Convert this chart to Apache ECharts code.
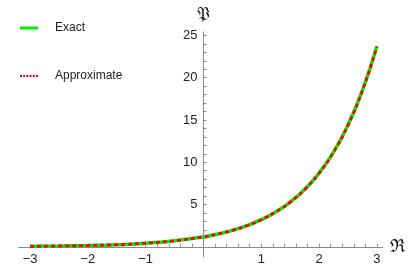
<!DOCTYPE html>
<html>
<head>
<meta charset="utf-8">
<script src="https://cdn.jsdelivr.net/npm/echarts@6/dist/echarts.min.js"></script>
<style>html,body{margin:0;padding:0;background:#fff}#c{width:416px;height:273px}</style>
</head>
<body>
<div id="c"></div>
<script>
// Values
const xs = [-3, -2.5, -2, -1.5, -1, -0.5, 0, 0.25, 0.5, 0.75, 1, 1.25, 1.5, 1.75, 2, 2.25, 2.5, 2.75, 3];
const exactVals = [0.06, 0.10, 0.16, 0.26, 0.43, 0.72, 1.18, 1.52, 1.95, 2.50, 3.21, 4.12, 5.29, 6.79, 8.72, 11.2, 14.4, 18.5, 23.7];
const approxVals = [0.06, 0.10, 0.16, 0.26, 0.43, 0.72, 1.18, 1.52, 1.95, 2.50, 3.21, 4.12, 5.29, 6.79, 8.72, 11.2, 14.4, 18.5, 23.7];
const xTickLabels = [-3, -2, -1, 1, 2, 3];
const yTickLabels = [5, 10, 15, 20, 25];
const xMinorTicks = [];
for (let i = -15; i <= 15; i++) xMinorTicks.push(Math.round(i * 2) / 10);
const yMinorTicks = [];
for (let i = 1; i <= 25; i++) yMinorTicks.push(i);

const exactData = xs.map((x, i) => [x, exactVals[i]]);
const approxData = xs.map((x, i) => [x, approxVals[i]]);

const gridLeft = 18.5, gridRight = 33.3, gridTop = 32, gridBottom = 16;
const xMin = -3.2, xMax = 3.1, yMin = -1.2, yMax = 25.4;
const plotW = 416 - gridLeft - gridRight;
const plotH = 273 - gridTop - gridBottom;
const xZeroOffset = plotW * (0 - xMin) / (xMax - xMin);
const yZeroOffset = plotH * (0 - yMin) / (yMax - yMin);

const dots = 'path://M0,0h2v2h-2z M3.2,0h2v2h-2z M6.4,0h2v2h-2z M9.6,0h2v2h-2z M12.8,0h2v2h-2z M16,0h2v2h-2z';

const chart = echarts.init(document.getElementById('c'), null, {renderer: 'canvas'});
const axisColor = '#8a8a8a';
chart.setOption({
  animation: false,
  backgroundColor: '#fff',
  grid: {left: gridLeft, right: gridRight, top: gridTop, bottom: gridBottom, containLabel: false, outerBoundsMode: 'none'},
  legend: {
    orient: 'vertical', left: 15, top: 17, itemWidth: 18, itemHeight: 3, itemGap: 36,
    textStyle: {fontFamily: 'Liberation Sans, Arial, sans-serif', fontSize: 12, color: '#222', padding: [0, 0, 0, 12]},
    data: [
      {name: 'Exact', icon: 'rect', itemStyle: {color: '#00ee00'}},
      {name: 'Approximate', icon: dots, itemStyle: {color: '#ff0000'}}
    ]
  },
  xAxis: {
    type: 'value', min: xMin, max: xMax, position: 'bottom', offset: -yZeroOffset,
    name: 'ℜ', nameLocation: 'end', nameGap: 7,
    nameTextStyle: {fontFamily: 'DejaVu Serif, serif', fontSize: 18, color: '#111', align: 'left', verticalAlign: 'middle', padding: [4, 0, 0, 0]},
    axisLine: {onZero: false, lineStyle: {color: axisColor, width: 1}},
    axisTick: {show: true, inside: true, length: 3, customValues: xMinorTicks, lineStyle: {color: axisColor}},
    axisLabel: {customValues: xTickLabels, color: '#222', fontSize: 13, fontFamily: 'Liberation Sans, Arial, sans-serif', margin: 6,
      formatter: v => v < 0 ? '\u2212' + Math.abs(v) : String(v)},
    splitLine: {show: false}
  },
  yAxis: {
    type: 'value', min: yMin, max: yMax, position: 'left', offset: -xZeroOffset,
    name: '𝔓', nameLocation: 'end', nameGap: 8,
    nameTextStyle: {fontFamily: 'DejaVu Serif, serif', fontSize: 18, color: '#111', align: 'center'},
    axisLine: {onZero: false, lineStyle: {color: axisColor, width: 1}},
    axisTick: {show: true, inside: true, length: 3, customValues: yMinorTicks, lineStyle: {color: axisColor}},
    axisLabel: {customValues: yTickLabels, color: '#222', fontSize: 13, fontFamily: 'Liberation Sans, Arial, sans-serif', margin: 6},
    splitLine: {show: false}
  },
  series: [
    {name: 'Exact', type: 'line', data: exactData, smooth: true, symbol: 'none',
      lineStyle: {color: '#00ee00', width: 3.5}, itemStyle: {color: '#00ee00'}, z: 2},
    {name: 'Approximate', type: 'line', data: approxData, smooth: true, symbol: 'none',
      lineStyle: {color: '#ff0000', width: 2.8, type: [4, 3]}, itemStyle: {color: '#ff0000'}, z: 3}
  ]
});
</script>
</body>
</html>
